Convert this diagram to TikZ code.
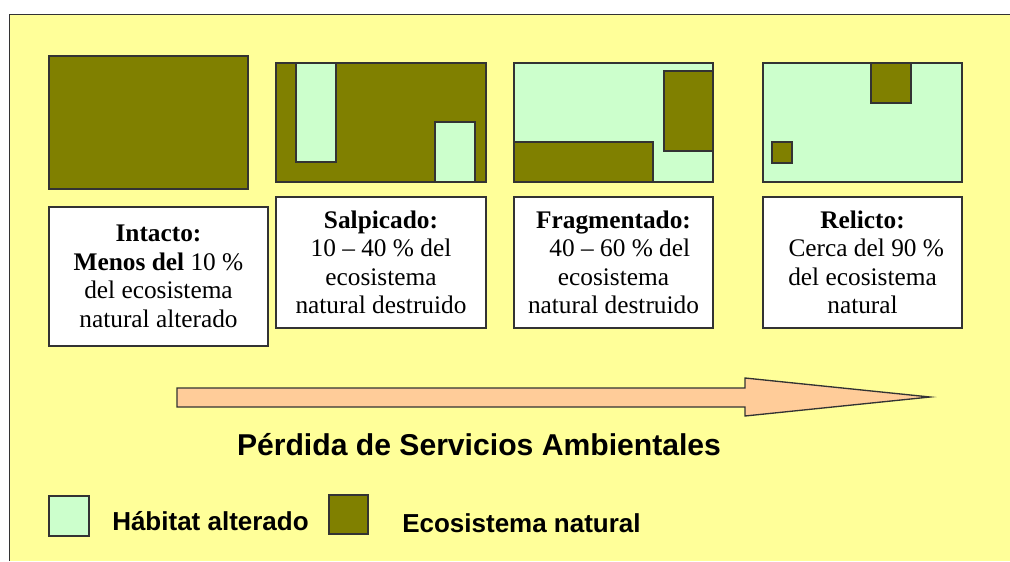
\documentclass[tikz,border=0pt]{standalone}
\usepackage{fontspec}
\setmainfont{Liberation Serif}
\newfontfamily\lsans{Liberation Sans}
\usetikzlibrary{fit}
\definecolor{bgyellow}{HTML}{FFFF99}
\definecolor{olive}{HTML}{808000}
\definecolor{lightgreen}{HTML}{CCFFCC}
\definecolor{peach}{HTML}{FFCC99}
\definecolor{edge}{HTML}{333333}
\tikzset{
  natural/.style={draw=edge, line width=1pt, fill=olive, inner sep=0pt},
  altered/.style={draw=edge, line width=1pt, fill=lightgreen, inner sep=0pt},
  textbox/.style={draw=edge, line width=1pt, fill=white, inner sep=0pt, align=center,
    font=\fontsize{19}{21.4}\selectfont},
  arrowshape/.style={draw=edge, line width=1pt, fill=peach},
  titletext/.style={font=\lsans\bfseries\fontsize{22.6}{26}\selectfont, inner sep=0pt},
  legendtext/.style={font=\lsans\bfseries\fontsize{19.5}{23}\selectfont, inner sep=0pt, anchor=west},
}
\begin{document}
\begin{tikzpicture}[x=0.75pt,y=-0.75pt]
\useasboundingbox (0,0) rectangle (1010,561);
% background frame
\fill[bgyellow] (9.5,14.5) rectangle (1010,561);
\draw[edge, line width=1.2pt] (9.5,561) -- (9.5,14.5) -- (1010,14.5);

% panel 1: intact
\node[natural, fit={(49,56) (248,189)}] (p1) {};

% panel 2: salpicado
\node[natural, fit={(276,63) (486,182)}] (p2) {};
\node[altered, fit={(296,63) (336,162)}] (p2a) {};
\node[altered, fit={(435,122) (475,182)}] (p2b) {};

% panel 3: fragmentado
\node[altered, fit={(514,63) (713,182)}] (p3) {};
\node[natural, fit={(514,142) (653,182)}] (p3a) {};
\node[natural, fit={(664,71) (713,151)}] (p3b) {};

% panel 4: relicto
\node[altered, fit={(763,63) (962,182)}] (p4) {};
\node[natural, fit={(871,63) (911,103)}] (p4a) {};
\node[natural, fit={(772,142) (792,163)}] (p4b) {};

% text boxes
\node[textbox, fit={(49,207) (268,346)}] (t1) {};
\node[font=\fontsize{19}{21.4}\selectfont, align=center] at (t1.center)
  {\textbf{Intacto:}\\\textbf{Menos del} 10 \%\\del ecosistema\\natural alterado};

\node[textbox, fit={(276,197) (486,328)}] (t2) {};
\node[font=\fontsize{19}{21.4}\selectfont, align=center] at (t2.center)
  {\textbf{Salpicado:}\\10 -- 40 \% del\\ecosistema\\natural destruido};

\node[textbox, fit={(514,197) (713,328)}] (t3) {};
\node[font=\fontsize{19}{21.4}\selectfont, align=center] at (t3.center)
  {\textbf{Fragmentado:}\\\hspace{0.5em}40 -- 60 \% del\\ecosistema\\natural destruido};

\node[textbox, fit={(763,197) (962,328)}] (t4) {};
\node[font=\fontsize{19}{21.4}\selectfont, align=center] at (t4.center)
  {\textbf{Relicto:}\\\hspace{0.3em}Cerca del 90 \%\\del ecosistema\\natural};

% big arrow
\draw[arrowshape] (177,388) -- (745,388) -- (745,378) -- (930,397)
  -- (745,416) -- (745,407) -- (177,407) -- cycle;

% title
\node[titletext] (title) at (479,445) {Pérdida de Servicios Ambientales};

% legend
\node[altered, fit={(49,496) (89,536)}] (lg1) {};
\node[legendtext] (lt1) at (112,521) {Hábitat alterado};
\node[natural, fit={(329,495) (368,534)}] (lg2) {};
\node[legendtext] (lt2) at (402,523) {Ecosistema natural};
\end{tikzpicture}
\end{document}
